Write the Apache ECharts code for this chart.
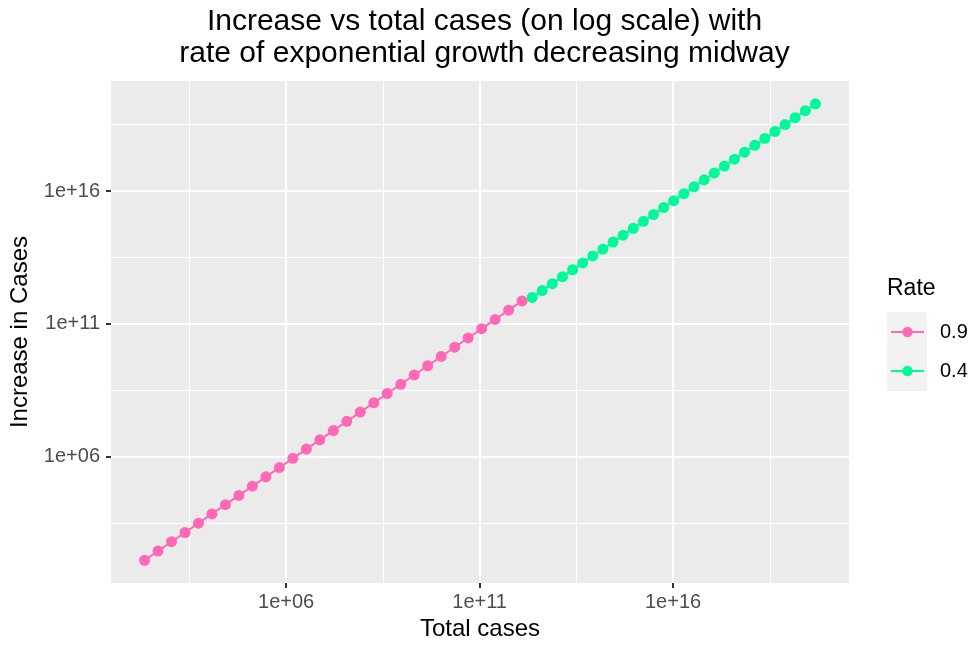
<!DOCTYPE html>
<html>
<head>
<meta charset="utf-8">
<script src="https://cdn.jsdelivr.net/npm/echarts@6/dist/echarts.min.js"></script>
<style>
  html, body { margin: 0; padding: 0; background: #ffffff; }
  #chart { width: 969px; height: 646px; }
</style>
</head>
<body>
<div id="chart"></div>
<script>
// Growth-rate groups shown in the legend
const rateLabels = ['0.9', '0.4'];
const rateColors = ['#FF69B4', '#00FA9A'];

// Rate 0.9: total cases and increase in cases
const totalCasesFast = [
  2.19e2, 4.88e2, 1.09e3, 2.43e3, 5.42e3, 1.21e4, 2.70e4, 6.02e4, 1.34e5, 3.00e5,
  6.68e5, 1.49e6, 3.33e6, 7.42e6, 1.66e7, 3.69e7, 8.24e7, 1.84e8, 4.10e8, 9.15e8,
  2.04e9, 4.56e9, 1.02e10, 2.27e10, 5.06e10, 1.13e11, 2.52e11, 5.62e11, 1.25e12
];
const increaseFast = [
  1.28e2, 2.86e2, 6.38e2, 1.42e3, 3.18e3, 7.09e3, 1.58e4, 3.53e4, 7.87e4, 1.76e5,
  3.92e5, 8.74e5, 1.95e6, 4.35e6, 9.70e6, 2.17e7, 4.83e7, 1.08e8, 2.40e8, 5.36e8,
  1.20e9, 2.67e9, 5.96e9, 1.33e10, 2.96e10, 6.62e10, 1.48e11, 3.29e11, 7.35e11
];

// Rate 0.4: total cases and increase in cases
const totalCasesSlow = [
  2.28e12, 4.15e12, 7.59e12, 1.39e13, 2.53e13, 4.62e13, 8.43e13, 1.54e14, 2.81e14, 5.13e14,
  9.38e14, 1.71e15, 3.13e15, 5.71e15, 1.04e16, 1.90e16, 3.48e16, 6.35e16, 1.16e17, 2.12e17,
  3.86e17, 7.06e17, 1.29e18, 2.35e18, 4.30e18, 7.84e18, 1.43e19, 2.62e19, 4.78e19
];
const increaseSlow = [
  9.91e11, 1.80e12, 3.28e12, 5.98e12, 1.09e13, 1.98e13, 3.61e13, 6.57e13, 1.20e14, 2.18e14,
  3.96e14, 7.22e14, 1.31e15, 2.39e15, 4.35e15, 7.93e15, 1.44e16, 2.63e16, 4.78e16, 8.71e16,
  1.58e17, 2.89e17, 5.25e17, 9.56e17, 1.74e18, 3.17e18, 5.77e18, 1.05e19, 1.91e19
];

// Axis breaks, as powers of ten
const majorExponents = [6, 11, 16];
const minorExponents = [3.5, 8.5, 13.5, 18.5];

const FONT = '"Liberation Sans", Arial, Helvetica, sans-serif';

// Both axes are log10 scales: points are placed by their base-10 exponent
const toLogPairs = (xs, ys) => xs.map((x, i) => [Math.log10(x), Math.log10(ys[i])]);
const fastPoints = toLogPairs(totalCasesFast, increaseFast);
const slowPoints = toLogPairs(totalCasesSlow, increaseSlow);

// Range padded by 5% on each side
function paddedRange(values) {
  const lo = Math.min(...values), hi = Math.max(...values);
  const pad = (hi - lo) * 0.05;
  return [lo - pad, hi + pad];
}
const [xMin, xMax] = paddedRange(fastPoints.concat(slowPoints).map(p => p[0]));
const [yMin, yMax] = paddedRange(fastPoints.concat(slowPoints).map(p => p[1]));

const sciLabel = v => '1e+' + String(v).padStart(2, '0');

function majorAxis(min, max, extra) {
  return Object.assign({
    type: 'value',
    min: min,
    max: max,
    axisLine: { show: false },
    axisTick: { show: true, customValues: majorExponents, length: 5, lineStyle: { color: '#333333', width: 2 } },
    axisLabel: { customValues: majorExponents, formatter: sciLabel, color: '#4D4D4D', fontSize: 20, fontFamily: FONT },
    splitLine: { show: true, lineStyle: { color: '#FFFFFF', width: 2 } },
    nameLocation: 'middle',
    nameTextStyle: { color: '#000000', fontSize: 24, fontFamily: FONT }
  }, extra);
}

function minorAxis(min, max, position) {
  return {
    type: 'value',
    min: min,
    max: max,
    position: position,
    axisLine: { show: false },
    axisTick: { show: false, customValues: minorExponents },
    axisLabel: { show: false, customValues: minorExponents },
    splitLine: { show: true, lineStyle: { color: '#FFFFFF', width: 1 } }
  };
}

function lineSeries(name, color, points) {
  return {
    type: 'line',
    name: name,
    xAxisIndex: 0,
    yAxisIndex: 0,
    data: points,
    symbol: 'circle',
    symbolSize: 11,
    showSymbol: true,
    itemStyle: { color: color },
    lineStyle: { color: color, width: 2 },
    z: 5
  };
}

const chart = echarts.init(document.getElementById('chart'), null, { renderer: 'canvas' });
chart.setOption({
  animation: false,
  backgroundColor: '#FFFFFF',
  title: {
    text: 'Increase vs total cases (on log scale) with\nrate of exponential growth decreasing midway',
    left: 'center',
    top: 1,
    textStyle: { color: '#000000', fontSize: 30, fontWeight: 'normal', fontFamily: FONT, lineHeight: 32 }
  },
  grid: {
    show: true,
    left: 111, right: 120, top: 81, bottom: 61,
    backgroundColor: '#EBEBEB',
    borderWidth: 0
  },
  xAxis: [
    majorAxis(xMin, xMax, { position: 'bottom', name: 'Total cases', nameGap: 32, axisLabel: { customValues: majorExponents, formatter: sciLabel, color: '#4D4D4D', fontSize: 20, fontFamily: FONT, margin: 9 } }),
    minorAxis(xMin, xMax, 'top')
  ],
  yAxis: [
    majorAxis(yMin, yMax, { position: 'left', name: 'Increase in Cases', nameGap: 79, axisLabel: { customValues: majorExponents, formatter: sciLabel, color: '#4D4D4D', fontSize: 20, fontFamily: FONT, margin: 11 } }),
    minorAxis(yMin, yMax, 'right')
  ],
  legend: {
    orient: 'vertical',
    left: 890,
    top: 322,
    padding: 0,
    itemWidth: 33,
    itemHeight: 13,
    itemGap: 19,
    data: rateLabels,
    textStyle: { color: '#000000', fontSize: 20, fontFamily: FONT, padding: [0, 0, 0, 11] }
  },
  graphic: [
    { type: 'rect', left: 887, top: 312, z: -1, shape: { width: 40, height: 79 }, style: { fill: '#F2F2F2' } },
    { type: 'text', left: 887, top: 277, style: { text: 'Rate', fill: '#000000', font: '23px ' + FONT } }
  ],
  series: [
    lineSeries(rateLabels[0], rateColors[0], fastPoints),
    lineSeries(rateLabels[1], rateColors[1], slowPoints)
  ]
});
</script>
</body>
</html>
